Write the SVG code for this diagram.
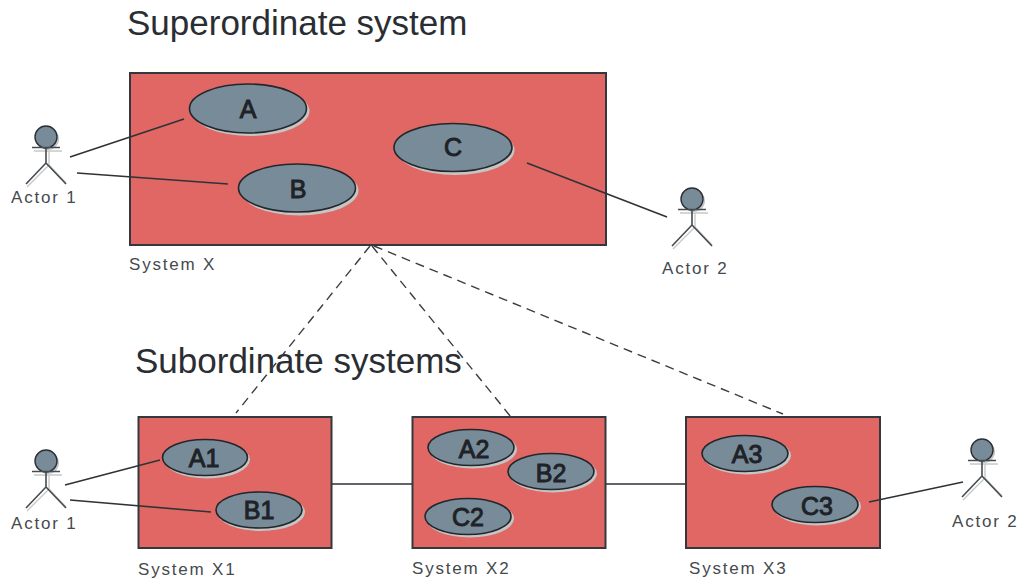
<svg xmlns="http://www.w3.org/2000/svg" width="1019" height="580" viewBox="0 0 1019 580">
<style>
text{font-family:"Liberation Sans",Arial,sans-serif;fill:#2e3338}
.title{font-size:35px;fill:#2a2e33}
.lab{font-size:17px;letter-spacing:1.8px;fill:#454a4e}
.uc{font-size:25px;text-anchor:middle;fill:#1f2226;stroke:#1f2226;stroke-width:1px}
.sys{fill:#e06764;stroke:#34383c;stroke-width:2}
.el{fill:#788b99;stroke:#23272b;stroke-width:1.6}
.sh{fill:#c4c6c6}
.ln{fill:none;stroke:#2e3338;stroke-width:1.6}
.da{fill:none;stroke:#3a3e42;stroke-width:1.4;stroke-dasharray:9 6}
.a{fill:none;stroke:#454b50;stroke-width:1.6}
.as{fill:none;stroke:#c6c8c8;stroke-width:1.4}
.h{fill:#788b99;stroke:#2c3034;stroke-width:1.4}
.hs{fill:#c6c8c8}
</style>
<defs>
<g id="actor">
<circle class="hs" cx="2" cy="2" r="11"/>
<circle class="h" r="11"/>
<path class="as" d="M-12 14H16M3 14V28L-19 50M3 28L20 46"/>
<path class="a" d="M-14 10.500H14M0 11V26L-20 47M0 26L20 47"/>
</g>
</defs>
<text class="title" x="127" y="35">Superordinate system</text>
<text class="title" x="135" y="373">Subordinate systems</text>
<g id="system-x">
<rect class="sys" x="130" y="73" width="476" height="172"/>
<text class="lab" x="129" y="270">System X</text>
</g>
<g id="system-x1">
<rect class="sys" x="138.500" y="417" width="193" height="131"/>
<text class="lab" x="138" y="575">System X1</text>
</g>
<g id="system-x2">
<rect class="sys" x="412.500" y="417" width="193" height="131"/>
<text class="lab" x="412" y="574">System X2</text>
</g>
<g id="system-x3">
<rect class="sys" x="686" y="417" width="194" height="131"/>
<text class="lab" x="689" y="574">System X3</text>
</g>
<g id="connectors">
<path class="ln" d="M70 157L184 119M77 173L228 184M527 163L667 217M65 485L160 460M70 500L211 512M332 484H412M606 484H686M869 502L963 482"/>
<path class="da" d="M370 246L236 413M372 246L511 417M374 246L783 414"/>
</g>
<g id="uc-a"><ellipse class="sh" cx="250.500" cy="111" rx="59" ry="25"/><ellipse class="el" cx="248" cy="108.500" rx="58.500" ry="24.500"/><text class="uc" x="248" y="118">A</text></g>
<g id="uc-b"><ellipse class="sh" cx="299.500" cy="190.500" rx="59" ry="25"/><ellipse class="el" cx="297" cy="188" rx="58.500" ry="24"/><text class="uc" x="298" y="198">B</text></g>
<g id="uc-c"><ellipse class="sh" cx="455.500" cy="150" rx="59" ry="25"/><ellipse class="el" cx="453" cy="147.500" rx="59" ry="24"/><text class="uc" x="453" y="156">C</text></g>
<g id="uc-a1"><ellipse class="sh" cx="207" cy="459.500" rx="43" ry="19"/><ellipse class="el" cx="205" cy="457.500" rx="42.500" ry="18"/><text class="uc" x="204" y="467">A1</text></g>
<g id="uc-b1"><ellipse class="sh" cx="261" cy="512" rx="44" ry="19"/><ellipse class="el" cx="259" cy="510" rx="43" ry="18"/><text class="uc" x="259" y="519">B1</text></g>
<g id="uc-a2"><ellipse class="sh" cx="473" cy="449.500" rx="44" ry="19"/><ellipse class="el" cx="471" cy="447.500" rx="43" ry="18"/><text class="uc" x="474" y="458">A2</text></g>
<g id="uc-b2"><ellipse class="sh" cx="553" cy="473.500" rx="44" ry="19"/><ellipse class="el" cx="551" cy="471.500" rx="43" ry="18"/><text class="uc" x="551" y="482">B2</text></g>
<g id="uc-c2"><ellipse class="sh" cx="470" cy="518.500" rx="44" ry="19"/><ellipse class="el" cx="468" cy="516.500" rx="43" ry="18"/><text class="uc" x="468" y="526">C2</text></g>
<g id="uc-a3"><ellipse class="sh" cx="747" cy="455.500" rx="44" ry="19"/><ellipse class="el" cx="745" cy="453.500" rx="43" ry="18"/><text class="uc" x="747" y="463">A3</text></g>
<g id="uc-c3"><ellipse class="sh" cx="817" cy="506.500" rx="44" ry="19"/><ellipse class="el" cx="815" cy="504.500" rx="43" ry="18"/><text class="uc" x="817" y="515">C3</text></g>
<g id="actor-1-top"><use href="#actor" x="46" y="137"/><text class="lab" x="11" y="203">Actor 1</text></g>
<g id="actor-2-top"><use href="#actor" x="692" y="199"/><text class="lab" x="662" y="274">Actor 2</text></g>
<g id="actor-1-bottom"><use href="#actor" x="46" y="461"/><text class="lab" x="11" y="529">Actor 1</text></g>
<g id="actor-2-bottom"><use href="#actor" x="982" y="450"/><text class="lab" x="952" y="527">Actor 2</text></g>
</svg>
